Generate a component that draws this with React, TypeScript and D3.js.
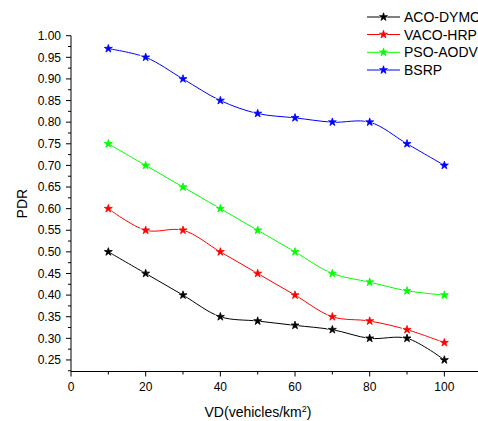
import React from "react";
import * as d3 from "d3";

const xValues = [10, 20, 30, 40, 50, 60, 70, 80, 90, 100];
const seriesNames = ["ACO-DYMO", "VACO-HRP", "PSO-AODV", "BSRP"];
const seriesColors = ["#000000", "#ff0000", "#00ff00", "#0000ff"];
const acoDymo = [0.5, 0.45, 0.4, 0.35, 0.34, 0.33, 0.32, 0.3, 0.3, 0.25];
const vacoHrp = [0.6, 0.55, 0.55, 0.5, 0.45, 0.4, 0.35, 0.34, 0.32, 0.29];
const psoAodv = [0.75, 0.7, 0.65, 0.6, 0.55, 0.5, 0.45, 0.43, 0.41, 0.4];
const bsrp = [0.97, 0.95, 0.9, 0.85, 0.82, 0.81, 0.8, 0.8, 0.75, 0.7];
const yTicks = [0.25, 0.3, 0.35, 0.4, 0.45, 0.5, 0.55, 0.6, 0.65, 0.7, 0.75, 0.8, 0.85, 0.9, 0.95, 1.0];
const xTicks = [0, 20, 40, 60, 80, 100];

const W = 478;
const H = 421;

export default function App() {
  const seriesValues = [acoDymo, vacoHrp, psoAodv, bsrp];
  const x = d3.scaleLinear().domain([0, 110]).range([71, 481.7]);
  const y = d3.scaleLinear().domain([0.2233, 1.0]).range([371.5, 35.7]);
  const line = d3
    .line<[number, number]>()
    .x((d) => x(d[0]))
    .y((d) => y(d[1]))
    .curve(d3.curveCatmullRom.alpha(0.5));
  const star = d3.symbol().type(d3.symbolStar).size(20)() as string;
  const starBg = d3.symbol().type(d3.symbolStar).size(48)() as string;
  const font = "Liberation Sans, Arial, sans-serif";

  const minorY: number[] = [];
  for (let v = 0.225; v < 1.0; v += 0.05) minorY.push(+v.toFixed(3));
  const minorX: number[] = [];
  for (let v = 10; v <= 110; v += 20) minorX.push(v);

  const legendX1 = 367;
  const legendX2 = 400;
  const legendY = [17, 34.5, 52.3, 70];

  return (
    <svg
      width={W}
      height={H}
      style={{ position: "fixed", left: 0, top: 0, background: "#fff" }}
      fontFamily={font}
    >
      <rect width={W} height={H} fill="#fff" />
      {seriesValues.map((vals, si) => {
        const pts = xValues.map((xv, i) => [xv, vals[i]] as [number, number]);
        return (
          <g key={si}>
            <path d={line(pts) || ""} fill="none" stroke={seriesColors[si]} strokeWidth={1} />
            {pts.map((p, i) => (
              <g key={i} transform={`translate(${x(p[0])},${y(p[1])})`}>
                <path d={starBg} fill="#fff" />
                <path d={star} fill={seriesColors[si]} stroke={seriesColors[si]} strokeWidth={0.8} />
              </g>
            ))}
          </g>
        );
      })}
      <line x1={x(0)} x2={x(0)} y1={y(1.0)} y2={y(0.2233)} stroke="#000" strokeWidth={1} />
      <line x1={x(0)} x2={x(110)} y1={y(0.2233)} y2={y(0.2233)} stroke="#000" strokeWidth={1} />
      {yTicks.map((t) => (
        <g key={t}>
          <line x1={x(0) - 5} x2={x(0)} y1={y(t)} y2={y(t)} stroke="#000" />
          <text x={61} y={y(t)} dy="0.35em" textAnchor="end" fontSize={12} fill="#000">
            {t.toFixed(2)}
          </text>
        </g>
      ))}
      {minorY.map((t) => (
        <line key={t} x1={x(0) - 3} x2={x(0)} y1={y(t)} y2={y(t)} stroke="#000" />
      ))}
      {xTicks.map((t) => (
        <g key={t}>
          <line x1={x(t)} x2={x(t)} y1={y(0.2233)} y2={y(0.2233) + 5} stroke="#000" />
          <text x={x(t)} y={391} textAnchor="middle" fontSize={12} fill="#000">
            {t}
          </text>
        </g>
      ))}
      {minorX.map((t) => (
        <line key={t} x1={x(t)} x2={x(t)} y1={y(0.2233)} y2={y(0.2233) + 3} stroke="#000" />
      ))}
      <text
        transform={`translate(27,${(y(1.0) + y(0.2233)) / 2}) rotate(-90)`}
        textAnchor="middle"
        fontSize={14}
        fill="#000"
      >
        PDR
      </text>
      <text x={258} y={417} textAnchor="middle" fontSize={14} fill="#000">
        VD(vehicles/km
        <tspan dy={-5} fontSize={9}>
          2
        </tspan>
        <tspan dy={5}>)</tspan>
      </text>
      {seriesNames.map((n, i) => (
        <g key={n}>
          <line x1={legendX1} x2={legendX2} y1={legendY[i]} y2={legendY[i]} stroke={seriesColors[i]} />
          <g transform={`translate(${(legendX1 + legendX2) / 2},${legendY[i]})`}>
            <path d={starBg} fill="#fff" />
            <path d={star} fill={seriesColors[i]} stroke={seriesColors[i]} strokeWidth={0.8} />
          </g>
          <text x={404} y={legendY[i]} dy="0.36em" fontSize={14} fill="#000">
            {n}
          </text>
        </g>
      ))}
    </svg>
  );
}
